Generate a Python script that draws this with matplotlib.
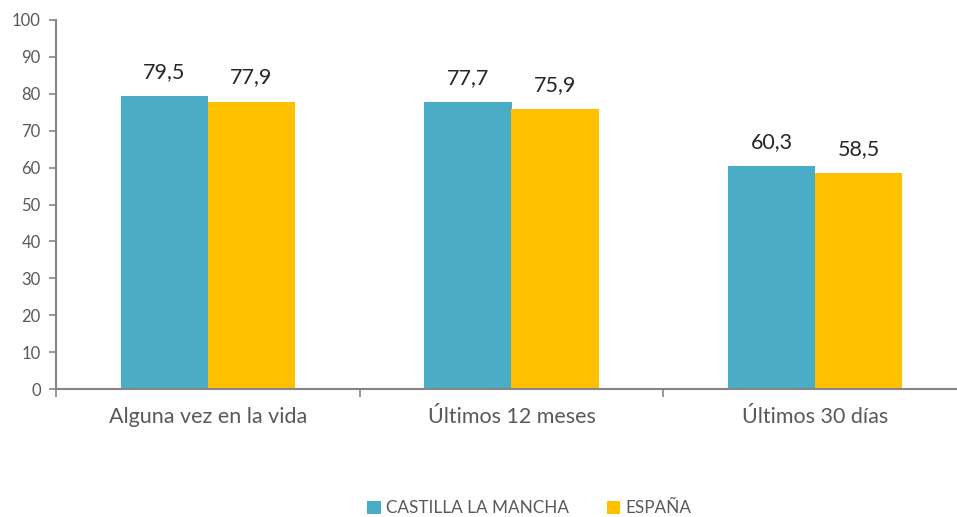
import numpy as np
import matplotlib.pyplot as plt
from matplotlib.ticker import FixedLocator

# Data
categorias = ["Alguna vez en la vida", "Últimos 12 meses", "Últimos 30 días"]
castilla = [79.5, 77.7, 60.3]
espana = [77.9, 75.9, 58.5]
series_names = ["CASTILLA LA MANCHA", "ESPAÑA"]

plt.rcParams['font.family'] = ['Lato', 'DejaVu Sans']

fig = plt.figure(figsize=(9.57, 5.17), dpi=100)
ax = fig.add_axes([56 / 957, 128 / 517, 911 / 957, 369 / 517])

x = np.arange(len(categorias))
w = 0.287
b1 = ax.bar(x - w / 2, castilla, w, color="#4BACC6", label=series_names[0])
b2 = ax.bar(x + w / 2, espana, w, color="#FFC000", label=series_names[1])

# data labels
for bars, vals in [(b1, castilla), (b2, espana)]:
    for rect, v in zip(bars, vals):
        ax.text(rect.get_x() + rect.get_width() / 2, v + 3.8,
                f"{v:.1f}".replace(".", ","), ha="center", va="bottom",
                fontsize=15.5, color="#262626")

ax.set_xlim(-0.5, 2.5)
ax.set_ylim(0, 100)
ax.set_yticks(range(0, 101, 10))
ax.tick_params(axis="y", labelsize=12, colors="#595959", length=5, width=1.2,
               color="#868686", pad=6)

# category labels centered, ticks at boundaries
ax.set_xticks(x)
ax.set_xticklabels(categorias, fontsize=15.5, color="#595959")
ax.tick_params(axis="x", which="major", length=0, pad=13)
ax.xaxis.set_minor_locator(FixedLocator([-0.5, 0.5, 1.5, 2.5]))
ax.tick_params(axis="x", which="minor", length=6, width=1.2, color="#868686")

for s in ["top", "right"]:
    ax.spines[s].set_visible(False)
for s in ["left", "bottom"]:
    ax.spines[s].set_color("#868686")
    ax.spines[s].set_linewidth(1.5)

fig.legend(handles=[b1, b2], loc="center", bbox_to_anchor=(0.553, 0.017),
           ncol=2, frameon=False, fontsize=12.3, labelcolor="#595959",
           handlelength=0.8, handleheight=0.8, handletextpad=0.3,
           columnspacing=2.2)

fig.savefig("out.png", dpi=100)
